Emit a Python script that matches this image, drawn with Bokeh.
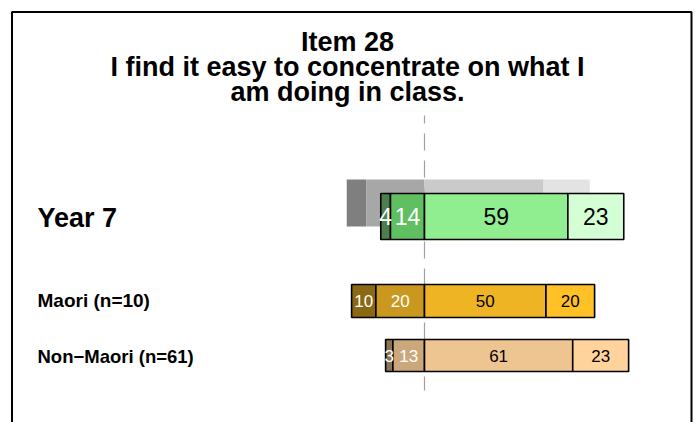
from bokeh.plotting import figure
from bokeh.models import Range1d, ColumnDataSource
from bokeh.core.properties import value
from bokeh.embed import file_html
from bokeh.resources import INLINE
import numpy as np

# ---------------- data ----------------
title_lines = ["Item 28", "I find it easy to concentrate on what I", "am doing in class."]
groups = ["Year 7", "Maori (n=10)", "Non\u2212Maori (n=61)"]
year7 = [4, 14, 59, 23]
maori = [10, 20, 50, 20]
nonmaori = [3, 13, 61, 23]
comparison = [8, 24, 49, 19]   # grey background bar behind Year 7

# ---------------- styles / layout ----------------
FONT = value("Liberation Sans")
year7_colors = ["#4E7E4E", "#60BF60", "#90EE90", "#D4FFD4"]
maori_colors = ["#8B6914", "#CA981E", "#EFB424", "#FFC125"]
nonmaori_colors = ["#8B7355", "#CBA87C", "#EEC591", "#FFD39B"]
grey_colors = ["#7F7F7F", "#A7A7A7", "#CACACA", "#E3E3E3"]
text_colors = ["white", "white", "black", "black"]

PX = 2.43          # pixels per percent
CX = 424           # picture x of the 0 line
OX, OY = 0, 0      # picture position of the figure
W, H = 695, 422


def xd(px):
    return (px - CX) / PX


p = figure(width=W, height=H, output_backend="svg", toolbar_location=None,
           x_axis_type=None, y_axis_type=None, min_border=0,
           x_range=Range1d(xd(OX), xd(OX + W)), y_range=Range1d(OY + H, OY))
p.grid.visible = False
p.outline_line_color = None
p.background_fill_color = "white"
p.border_fill_color = "white"

# border box (bottom edge lies outside the view)
p.quad(left=[xd(11.5)], right=[xd(691)], top=[11.5], bottom=[450],
       fill_alpha=0, line_color="black", line_width=2)

# central dashed reference line
p.line(x=[0, 0], y=[115, 390], line_color="#A0A0A0", line_width=1.2,
       line_dash="17 10", line_dash_offset=9)


def stacked(vals, yc, h, colors, outline=True):
    v = np.array(vals, dtype=float)
    left0 = -(v[0] + v[1])
    edges = left0 + np.concatenate([[0], np.cumsum(v)])
    src = ColumnDataSource(dict(y=[yc] * 4, left=edges[:-1], right=edges[1:],
                                color=colors, mid=(edges[:-1] + edges[1:]) / 2,
                                lab=[str(int(x)) for x in vals], tc=text_colors))
    p.hbar(y="y", height=h, left="left", right="right", fill_color="color",
           line_color="black" if outline else None, line_width=1.6, source=src)
    return src


# grey comparison bar
stacked(comparison, 202.5, 47, grey_colors, outline=False)

rows = [
    (year7, 216, 46, year7_colors, "23px", "27px", 217),
    (maori, 300.5, 33, maori_colors, "17px", "19px", 300),
    (nonmaori, 355, 32, nonmaori_colors, "17px", "18.5px", 356),
]
for (vals, yc, h, cols, vfs, lfs, lmid), name in zip(rows, groups):
    src = stacked(vals, yc, h, cols)
    p.text(x="mid", y="y", text="lab", text_color="tc", source=src,
           text_font=FONT, text_font_size=vfs, text_align="center",
           text_baseline="middle")
    p.text(x=[xd(37)], y=[lmid], text=[name], text_font=FONT,
           text_font_size=lfs, text_font_style="bold", text_color="black",
           text_align="left", text_baseline="middle")

# title
for line, mid in zip(title_lines, [41, 66, 91]):
    p.text(x=[xd(347)], y=[mid], text=[line], text_font=FONT,
           text_font_size="27px", text_font_style="bold", text_color="black",
           text_align="center", text_baseline="middle")

open("out.html", "w").write(file_html(p, INLINE))
